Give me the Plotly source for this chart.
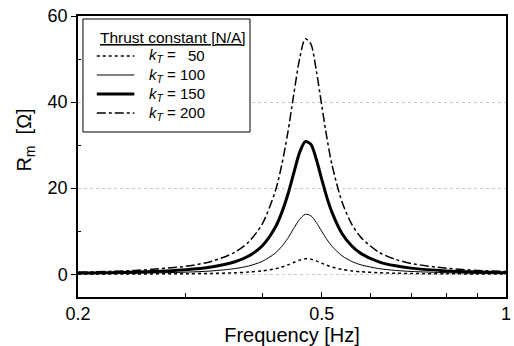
import plotly.graph_objects as go

freq = [0.20, 0.25, 0.30, 0.33, 0.36, 0.38, 0.40, 0.42, 0.43, 0.44, 0.45, 0.46,
        0.47, 0.48, 0.49, 0.50, 0.51, 0.52, 0.54, 0.56, 0.58, 0.62, 0.66, 0.70,
        0.80, 0.90, 1.00]

r_kt50 = [0.03, 0.06, 0.12, 0.19, 0.33, 0.49, 0.77, 1.27, 1.65, 2.14, 2.72, 3.27,
          3.58, 3.50, 3.10, 2.57, 2.07, 1.66, 1.09, 0.76, 0.56, 0.33, 0.23, 0.16,
          0.09, 0.06, 0.04]
r_kt100 = [0.11, 0.23, 0.47, 0.75, 1.28, 1.91, 2.99, 4.9, 6.4, 8.3, 10.6, 12.7,
           13.9, 13.6, 12.0, 10.0, 8.06, 6.45, 4.25, 2.95, 2.16, 1.30, 0.88, 0.64,
           0.35, 0.22, 0.16]
r_kt150 = [0.25, 0.51, 1.04, 1.67, 2.84, 4.23, 6.6, 10.9, 14.2, 18.4, 23.4, 28.2,
           30.8, 30.2, 26.7, 22.1, 17.8, 14.3, 9.4, 6.54, 4.78, 2.88, 1.94, 1.41,
           0.77, 0.50, 0.35]
r_kt200 = [0.45, 0.90, 1.84, 2.96, 5.03, 7.5, 11.7, 19.3, 25.2, 32.7, 41.6, 49.9,
           54.7, 53.5, 47.3, 39.3, 31.6, 25.3, 16.7, 11.6, 8.5, 5.1, 3.45, 2.50,
           1.36, 0.88, 0.62]

kt_labels = ["50", "100", "150", "200"]
x_tickvals = [0.2, 0.5, 1]
x_ticktext = ["0.2", "0.5", "1"]
x_minor = [0.3, 0.4, 0.6, 0.7, 0.8, 0.9]
y_tickvals = [0, 20, 40, 60]
y_minor = [10, 30, 50]

styles = [
    dict(color="black", width=1.5, dash="dot"),
    dict(color="black", width=1),
    dict(color="black", width=3),
    dict(color="black", width=1.5, dash="dashdot"),
]

font = "Liberation Sans, Arial, sans-serif"

# plot-area geometry (pixels) used to place the hand-drawn legend
W, H = 514, 346
ML, MR, MT, MB = 78, 3, 16, 49
PW, PH = W - ML - MR, H - MT - MB


def px(x):
    return (x - ML) / PW


def py(y):
    return (H - MB - y) / PH


fig = go.Figure()
for vals, lab, line in zip([r_kt50, r_kt100, r_kt150, r_kt200], kt_labels, styles):
    fig.add_trace(go.Scatter(x=freq, y=vals, mode="lines", name=f"k_T = {lab}",
                             line=dict(shape="spline", smoothing=0.8, **line),
                             showlegend=False))

shapes = [dict(type="rect", xref="paper", yref="paper",
               x0=px(83), x1=px(252), y0=py(132), y1=py(19),
               line=dict(color="black", width=1), fillcolor="white", layer="above")]
annotations = [dict(xref="paper", yref="paper", x=px(98), y=py(37),
                    xanchor="left", yanchor="middle", showarrow=False,
                    text="<u>Thrust constant [N/A]</u>",
                    font=dict(size=15.5, family=font, color="black"))]
rows = [56, 75, 94, 113]
for lab, line, ry in zip(kt_labels, styles, rows):
    shapes.append(dict(type="line", xref="paper", yref="paper",
                       x0=px(97), x1=px(135), y0=py(ry), y1=py(ry),
                       line=line, layer="above"))
    annotations.append(dict(xref="paper", yref="paper", x=px(148), y=py(ry),
                            xanchor="left", yanchor="middle", showarrow=False,
                            text="<i>k</i><sub><i>T</i></sub> =",
                            font=dict(size=15, family=font, color="black")))
    annotations.append(dict(xref="paper", yref="paper", x=px(209), y=py(ry - 1),
                            xanchor="right", yanchor="middle", showarrow=False,
                            text=lab,
                            font=dict(size=15, family=font, color="black")))

annotations.append(dict(xref="paper", yref="paper", x=-(ML - 24) / PW, y=py(140),
                        xanchor="center", yanchor="middle", showarrow=False,
                        textangle=-90, text="R<sub>m</sub>  [Ω]",
                        font=dict(size=20, family=font, color="black")))

fig.update_layout(
    width=W, height=H,
    margin=dict(l=ML, r=MR, t=MT, b=MB),
    paper_bgcolor="white", plot_bgcolor="white",
    font=dict(family=font, size=18, color="black"),
    showlegend=False,
    shapes=shapes,
    annotations=annotations,
    xaxis=dict(
        type="log", range=[-0.69897, 0.0],
        tickvals=x_tickvals, ticktext=x_ticktext,
        ticks="inside", ticklen=5, tickwidth=1, tickcolor="black",
        minor=dict(tickvals=x_minor, ticks="inside", ticklen=4, tickcolor="black"),
        showline=True, linecolor="black", linewidth=1.5, mirror=True,
        showgrid=False, zeroline=False,
        ticklabeloverflow="allow",
        title=dict(text="Frequency [Hz]", font=dict(size=20), standoff=2),
        tickfont=dict(size=18),
    ),
    yaxis=dict(
        range=[-5.3, 60],
        tickvals=y_tickvals,
        ticks="outside", ticklen=5, tickwidth=1, tickcolor="black",
        minor=dict(tickvals=y_minor, ticks="inside", ticklen=3, tickcolor="black"),
        showline=True, linecolor="black", linewidth=1.5, mirror=True,
        showgrid=True, gridcolor="#c8c8c8", griddash="dot", gridwidth=1,
        zeroline=False,
        tickfont=dict(size=18),
    ),
)

fig.write_html("out.html")
